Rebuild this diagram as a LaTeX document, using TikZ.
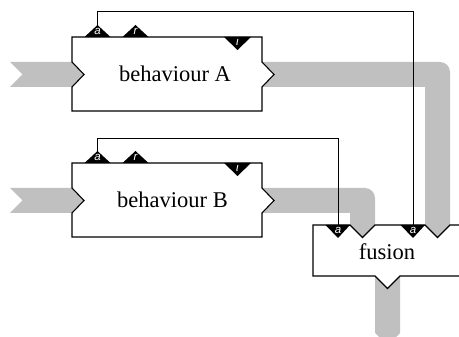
\documentclass[tikz,border=0pt]{standalone}
\usepackage{fontspec}
\setmainfont{Liberation Serif}
\newfontfamily\portfont{Liberation Sans}
\definecolor{flowgray}{RGB}{192,192,192}
\begin{document}
\begin{tikzpicture}[x=1pt,y=-1pt,
  boxshape/.style={draw=black, line width=1.1pt, fill=white, line join=miter},
  flow/.style={fill=flowgray, draw=none},
  portmark/.style={fill=black, draw=none},
  portlbl/.style={text=white, font=\portfont\itshape\fontsize{11.5}{11.5}\selectfont, inner sep=0pt},
  conn/.style={draw=black, line width=0.9pt},
  lbl/.style={font=\fontsize{22.5}{24}\selectfont, inner sep=0pt, anchor=base}]
\useasboundingbox (0,0) rectangle (459,337);

% ---- gray flows ----
\fill[flow] (10,62) -- (72,62) -- (84,74.5) -- (72,87) -- (10,87) -- (22.5,74.5) -- cycle;
\fill[flow] (10,188) -- (72,188) -- (84,200.5) -- (72,213) -- (10,213) -- (22.5,200.5) -- cycle;
\fill[flow] (262,62) -- (440,62) .. controls (445.5,62) and (450,66.5) .. (450,72)
  -- (450,225) -- (437.5,237.5) -- (425,225) -- (425,87) -- (262,87) -- (274,74.5) -- cycle;
\fill[flow] (262,188) -- (365,188) .. controls (370.5,188) and (375,192.5) .. (375,198)
  -- (375,225) -- (362.5,237.5) -- (350,225) -- (350,213) -- (262,213) -- (274,200.5) -- cycle;
\fill[flow] (375,276) -- (387.5,288.5) -- (400,276) -- (400,333) -- (387.5,345.5) -- (375,333) -- cycle;

% ---- behaviour boxes ----
\draw[boxshape] (72,37) -- (262,37) -- (262,62) -- (274,74.5) -- (262,87) -- (262,111)
  -- (72,111) -- (72,87) -- (84,74.5) -- (72,62) -- cycle;
\draw[boxshape] (72,163) -- (262,163) -- (262,188) -- (274,200.5) -- (262,213) -- (262,237)
  -- (72,237) -- (72,213) -- (84,200.5) -- (72,188) -- cycle;

% ---- fusion box ----
\fill[white] (313,276) -- (313,225) -- (350,225) -- (362.5,237.5) -- (375,225) -- (425,225)
  -- (437.5,237.5) -- (450,225) -- (459,225) -- (459,276) -- (400,276) -- (387.5,288.5) -- (375,276) -- cycle;
\draw[line width=1.1pt, line join=miter] (459,225) -- (450,225) -- (437.5,237.5) -- (425,225) -- (375,225)
  -- (362.5,237.5) -- (350,225) -- (313,225) -- (313,276) -- (375,276) -- (387.5,288.5) -- (400,276) -- (459,276);

% ---- ports ----
\fill[portmark] (84.5,37) -- (97.5,25) -- (110.5,37) -- cycle;
\fill[portmark] (122.5,37) -- (135.5,25) -- (148.5,37) -- cycle;
\fill[portmark] (224,37) -- (237.5,50) -- (251,37) -- cycle;
\fill[portmark] (84.5,163) -- (97.5,151) -- (110.5,163) -- cycle;
\fill[portmark] (122.5,163) -- (135.5,151) -- (148.5,163) -- cycle;
\fill[portmark] (224,163) -- (237.5,176) -- (251,163) -- cycle;
\fill[portmark] (325.5,225) -- (338,238) -- (350,225) -- cycle;
\fill[portmark] (400.5,225) -- (413,238) -- (425,225) -- cycle;

\node[portlbl] (la1) at (97.5,31.5) {a};
\node[portlbl] (lr1) at (135.5,31.5) {r};
\node[portlbl] (li1) at (237.5,42) {ι};
\node[portlbl] (la2) at (97.5,157.5) {a};
\node[portlbl] (lr2) at (135.5,157.5) {r};
\node[portlbl] (li2) at (237.5,168) {ι};
\node[portlbl] (lf1) at (338,230.5) {a};
\node[portlbl] (lf2) at (413,230.5) {a};

\coordinate (pA) at (97.5,25);
\coordinate (pB) at (97.5,151);
\coordinate (fA) at (413,225);
\coordinate (fB) at (338,225);

% ---- connectors ----
\draw[conn] (pA) -- (97.5,11) -| (fA);
\draw[conn] (pB) -- (97.5,138) -| (fB);

% ---- labels ----
\node[lbl] (behA) at (175,82) {behaviour A};
\node[lbl] (behB) at (172.5,207.5) {behaviour B};
\node[lbl] (fus) at (387,260) {fusion};
\end{tikzpicture}
\end{document}
